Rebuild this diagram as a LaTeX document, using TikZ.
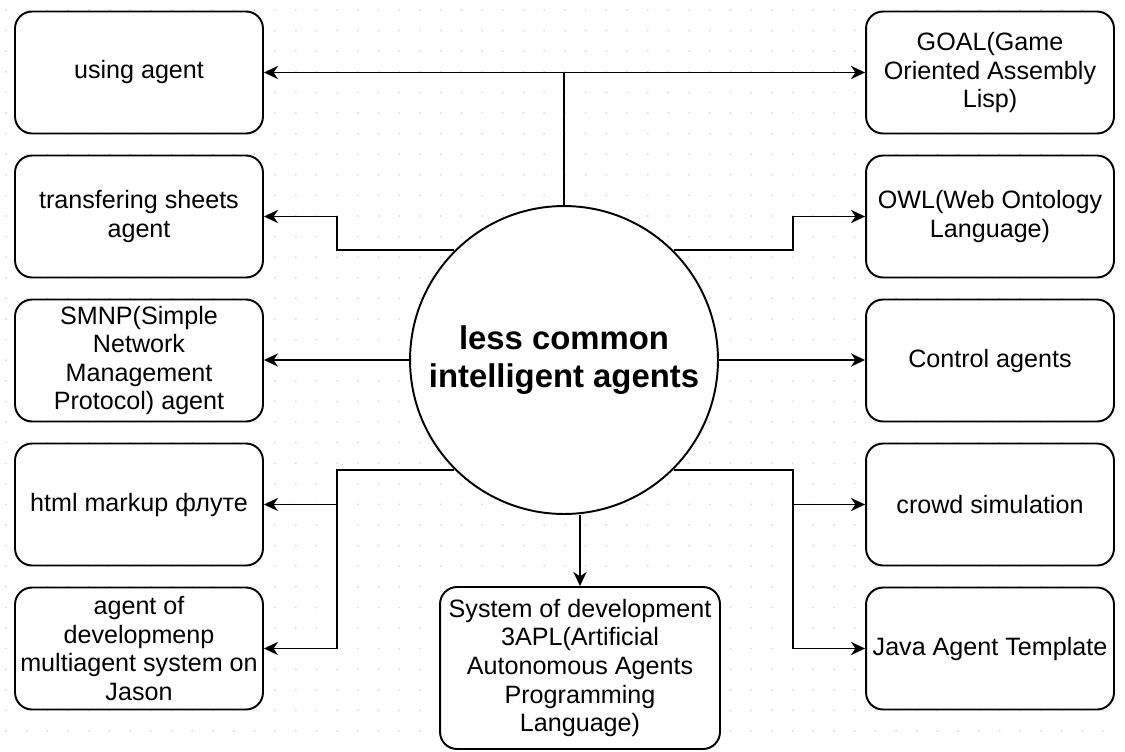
\documentclass[tikz,border=0pt]{standalone}
\usepackage{fontspec}
\setmainfont{Liberation Sans}
\usetikzlibrary{arrows.meta}
\begin{document}
\begin{tikzpicture}[x=0.02cm,y=-0.02cm,>={Stealth[length=8pt,width=7.5pt,inset=2.5pt]},line width=1.1pt,
  agentbox/.style={draw,rounded corners=0.34cm,minimum width=4.96cm,minimum height=2.44cm,
    inner sep=0pt,align=center,font=\fontsize{14.3}{16.3}\selectfont},
  griddot/.style={fill=black!13,draw=none}]
\useasboundingbox (0,0) rectangle (1125,751);
\foreach \gx in {0,...,53}
  \foreach \gy in {0,...,35}
    \fill[griddot] (6+20.7*\gx,10+20.6*\gy) circle (1.1);
\node[draw,circle,fill=white,minimum size=6.16cm,inner sep=0pt,align=center,
  font=\fontsize{18.7}{21.6}\selectfont\bfseries] (core) at (564,360) {less common\\intelligent agents};
\node[agentbox,fill=white] (using) at (139,72.5) {using agent};
\node[agentbox,fill=white] (sheets) at (139,216.5) {transfering sheets\\agent};
\node[agentbox,fill=white] (smnp) at (139,360.5) {SMNP(Simple\\Network\\Management\\Protocol) agent};
\node[agentbox,fill=white] (html) at (139,504.5) {html markup флуте};
\node[agentbox,fill=white] (jason) at (139,648.5) {agent of\\developmenp\\multiagent system on\\Jason};
\node[agentbox,fill=white] (goal) at (990,72.5) {GOAL(Game\\Oriented Assembly\\Lisp)};
\node[agentbox,fill=white] (owl) at (990,216.5) {OWL(Web Ontology\\Language)};
\node[agentbox,fill=white] (control) at (990,360.5) {Control agents};
\node[agentbox,fill=white] (crowd) at (990,504.5) {crowd simulation};
\node[agentbox,fill=white] (java) at (990,648.5) {Java Agent Template};
\node[agentbox,fill=white,minimum width=5.6cm,minimum height=3.24cm] (apl) at (580,668)
  {System of development\\3APL(Artificial\\Autonomous Agents\\Programming\\Language)};
\coordinate (lbend) at (337,0);
\coordinate (rbend) at (793,0);
\draw[<->] (using.east) -- (goal.west);
\draw (core.north) -- (core.north |- using.east);
\draw[->] (core.135) -- (core.135 -| lbend) |- (sheets.east);
\draw[->] (core.45) -- (core.45 -| rbend) |- (owl.west);
\draw[->] (core.west) -- (core.west -| smnp.east);
\draw[->] (core.east) -- (core.east -| control.west);
\draw[->] (core.-135) -- (core.-135 -| lbend) |- (jason.east);
\draw[->] (lbend |- html.east) -- (html.east);
\draw[->] (core.-45) -- (core.-45 -| rbend) |- (java.west);
\draw[->] (rbend |- crowd.west) -- (crowd.west);
\draw[->] (apl.north |- core.south) -- (apl.north);
\end{tikzpicture}
\end{document}
